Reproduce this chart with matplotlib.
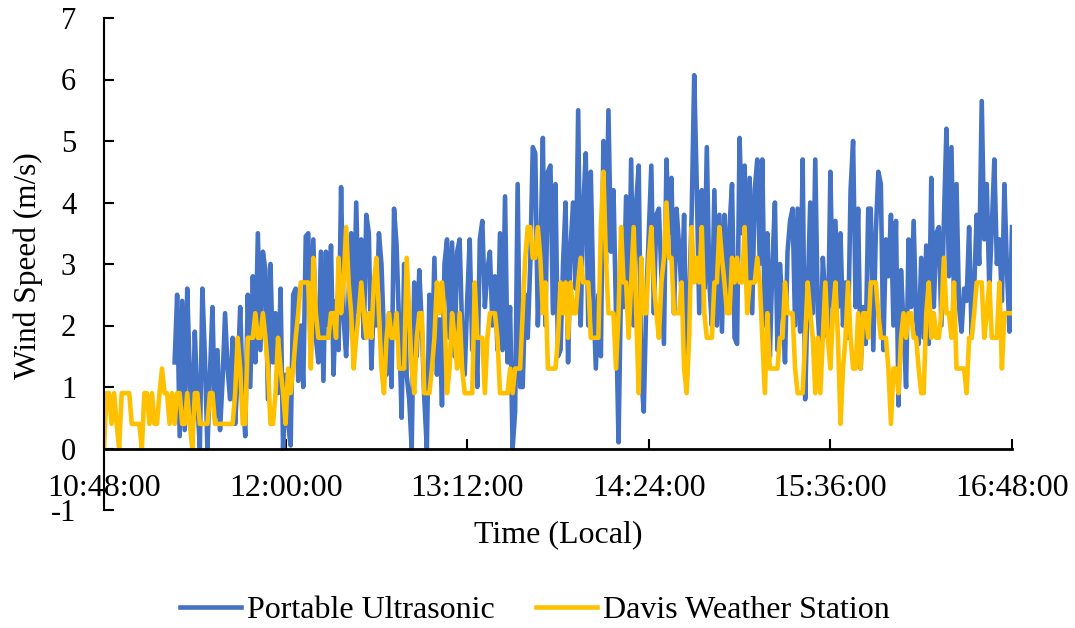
import matplotlib.pyplot as plt
import numpy as np

plt.rcParams['font.family'] = ['Liberation Serif', 'DejaVu Serif']
plt.rcParams['axes.unicode_minus'] = False

####DATA####
# minutes after 10:48:00, one sample per minute
tick_labels = ['10:48:00', '12:00:00', '13:12:00', '14:24:00', '15:36:00', '16:48:00']
tick_minutes = [0, 72, 144, 216, 288, 360]

# Davis Weather Station (m/s), starts at 10:48
davis = [
    0, 0.9, 0.9, 0.4, 0.9, 0.4, 0, 0.9, 0.9, 0.9,
    0.9, 0.4, 0.4, 0.4, 0.4, 0, 0.9, 0.9, 0.4, 0.9,
    0.4, 0.4, 0.9, 1.3, 0.9, 0.9, 0.4, 0.9, 0.4, 0.9,
    0.9, 0.4, 0.4, 0.9, 0.4, 0, 0.9, 0.9, 0.4, 0.4,
    0.4, 0.4, 0.9, 0.9, 0.4, 0.4, 0.4, 0.4, 0.4, 0.4,
    0.4, 0.4, 0.9, 1.8, 1.3, 0.4, 0.4, 1.8, 1.8, 1.8,
    2.2, 1.8, 1.8, 2.2, 1.8, 1.3, 0.4, 0.4, 0.9, 1.8,
    1.3, 0.9, 0.4, 1.3, 0.9, 1.3, 1.8, 2.2, 2.7, 2.7,
    2.7, 2.7, 1.3, 3.1, 2.2, 1.8, 1.8, 1.8, 1.8, 1.8,
    2.2, 2.2, 1.8, 3.1, 2.2, 2.7, 3.6, 2.7, 2.2, 1.3,
    1.8, 2.2, 2.7, 2.2, 1.8, 2.2, 1.8, 2.7, 3.1, 2.2,
    1.3, 0.9, 1.8, 2.2, 1.8, 1.8, 2.2, 1.3, 1.3, 1.3,
    3.1, 2.2, 1.3, 0.9, 1.8, 2.2, 2.2, 0.9, 0.9, 0.9,
    1.3, 1.8, 2.7, 2.2, 2.7, 2.2, 0.9, 1.3, 2.2, 1.8,
    1.3, 2.2, 1.3, 0.9, 0.9, 0.9, 0.9, 2.7, 1.8, 1.8,
    1.8, 0.9, 1.8, 2.2, 2.2, 2.2, 1.8, 0.9, 0.9, 0.9,
    0.9, 1.3, 0.9, 1.3, 1.3, 1.3, 2.2, 3.1, 3.6, 3.6,
    3.1, 3.1, 3.6, 3.1, 2.2, 2.7, 1.3, 1.3, 1.3, 1.3,
    1.8, 2.7, 2.2, 2.7, 1.8, 2.7, 2.2, 2.2, 2.7, 3.1,
    2.7, 2.7, 2.7, 1.8, 1.8, 1.8, 1.8, 3.6, 4.5, 3.1,
    2.2, 2.2, 2.2, 1.3, 2.2, 3.6, 2.7, 2.7, 1.8, 2.7,
    3.6, 2.2, 0.9, 3.1, 2.2, 2.2, 3.1, 3.6, 2.7, 2.2,
    1.8, 2.7, 3.1, 4.0, 3.1, 3.1, 2.2, 2.2, 2.2, 2.7,
    1.3, 0.9, 1.8, 3.6, 2.7, 3.1, 2.7, 3.6, 2.2, 1.8,
    1.8, 1.8, 2.7, 2.7, 3.6, 3.1, 2.7, 2.2, 2.2, 3.1,
    2.7, 3.1, 2.7, 2.7, 3.6, 2.2, 2.7, 2.7, 2.7, 3.1,
    2.7, 1.8, 0.9, 2.2, 1.3, 1.3, 1.3, 1.3, 1.8, 1.8,
    2.7, 2.2, 2.2, 2.2, 1.3, 0.9, 0.9, 0.9, 1.8, 2.7,
    2.2, 1.8, 0.9, 1.8, 0.9, 1.8, 2.7, 1.8, 1.3, 2.2,
    2.7, 1.8, 0.4, 1.3, 1.8, 2.7, 1.8, 1.3, 1.3, 2.2,
    1.3, 2.2, 2.2, 1.8, 2.7, 2.7, 2.7, 2.2, 1.8, 1.8,
    1.8, 1.3, 0.4, 1.3, 1.3, 0.9, 1.8, 2.2, 1.8, 2.2,
    2.2, 1.8, 1.8, 1.3, 0.9, 0.9, 2.2, 2.7, 1.8, 2.2,
    1.8, 1.8, 2.2, 3.1, 2.2, 2.2, 1.8, 2.7, 1.3, 1.3,
    1.3, 1.3, 0.9, 1.8, 1.8, 2.2, 2.7, 2.7, 2.7, 1.8,
    2.2, 2.7, 1.8, 1.8, 1.8, 2.7, 1.3, 2.2, 2.2, 2.2, 2.2,
]

# Portable Ultrasonic (m/s), starts 28 min after 10:48
ultra_start = 28
ultra = [
    1.4, 2.5,
    0.2, 2.4, 0.3, 2.6, 1.2, 0.1, 1.9, 0.8, 0.0, 2.6,
    1.5, 0.0, 1.2, 2.3, 0.5, 1.6, 0.3, 1.1, 2.2, 1.3,
    0.8, 1.8, 0.4, 1.2, 2.3, 0.9, 0.2, 2.5, 1.0, 2.8,
    1.4, 3.5, 1.6, 3.2, 2.9, 0.8, 3.0, 1.4, 2.2, 0.9,
    2.6, 0.0, 1.2, 0.4, 0.05, 2.5, 2.6, 1.1, 2.0, 1.0,
    3.45, 3.5, 1.5, 3.4, 1.8, 1.4, 3.2, 1.1, 3.2, 2.0,
    3.3, 1.2, 2.4, 1.6, 4.25, 2.1, 1.5, 2.5, 3.5, 1.9,
    4.0, 2.2, 3.4, 1.8, 3.8, 3.5, 1.3, 2.4, 2.0, 3.5,
    3.0, 1.8, 1.2, 2.2, 1.0, 3.9, 3.3, 2.0, 0.5, 3.0,
    1.2, 0.8, 0.0, 2.7, 1.5, 2.9, 2.0, 0.8, 0.0, 2.5,
    1.4, 3.1, 1.2, 2.1, 0.7, 3.0, 3.4, 1.8, 3.35, 1.5,
    3.2, 3.4, 1.9, 1.2, 2.4, 3.4, 1.6, 2.2, 1.0, 3.4,
    3.7, 2.3, 2.9, 3.2, 2.0, 2.8, 1.6, 3.5, 1.6, 4.1,
    1.4, 2.3, 0.0, 0.6, 4.3, 1.0, 1.0, 2.5, 1.8, 3.0,
    4.9, 4.8, 2.0, 3.1, 5.05, 2.0, 4.5, 4.6, 2.2, 4.3,
    1.5, 1.6, 3.0, 4.0, 1.4, 3.3, 4.0, 2.6, 5.5, 2.0,
    3.9, 4.8, 2.0, 4.5, 2.5, 1.3, 2.5, 1.5, 5.0, 3.0,
    5.5, 3.2, 4.2, 2.2, 0.1, 2.7, 2.3, 4.1, 2.0, 4.7,
    2.0, 4.0, 4.6, 1.2, 0.6, 2.4, 3.5, 4.6, 2.2, 3.8,
    3.9, 2.8, 1.7, 4.7, 3.5, 4.4, 2.2, 3.9, 3.3, 2.5,
    3.8, 1.1, 2.4, 3.8, 6.07, 4.3, 2.2, 4.2, 2.6, 4.9,
    2.7, 2.0, 4.2, 2.0, 3.8, 1.9, 3.8, 2.3, 3.6, 4.3,
    1.8, 1.7, 5.05, 3.5, 4.6, 2.5, 4.4, 2.2, 4.2, 4.7,
    3.0, 4.7, 2.0, 3.5, 1.5, 3.0, 4.0, 1.6, 3.0, 2.3,
    1.4, 3.2, 3.7, 3.9, 2.0, 3.9, 1.9, 4.7, 0.8, 2.5,
    4.0, 2.2, 4.7, 2.2, 1.5, 3.1, 2.4, 1.8, 4.5, 2.3,
    3.7, 2.3, 3.5, 2.0, 2.7, 1.8, 4.2, 5.0, 2.3, 3.9,
    1.3, 2.3, 1.7, 3.9, 3.9, 1.6, 3.5, 4.5, 4.3, 1.6,
    3.4, 2.8, 3.8, 2.0, 3.7, 0.7, 2.9, 2.0, 1.0, 3.4,
    2.3, 3.7, 2.1, 1.7, 3.1, 1.8, 3.3, 1.7, 4.4, 2.3,
    3.5, 3.6, 2.0, 3.7, 5.2, 2.8, 4.9, 2.4, 4.3, 2.3,
    1.9, 2.6, 2.4, 3.6, 1.8, 2.6, 3.8, 3.0, 5.65, 3.4,
    4.3, 2.6, 3.6, 4.7, 3.0, 3.4, 2.4, 4.3, 2.9, 1.9, 3.6,
]

t_davis = np.arange(len(davis))
t_ultra = ultra_start + np.arange(len(ultra))

####PLOT####
fig = plt.figure(figsize=(10.75, 6.28), dpi=100)
ax = fig.add_axes([104/1075, 1 - 510/628, 908/1075, 492/628])

ax.plot(t_ultra, ultra, color='#4472C4', lw=3.3, label='Portable Ultrasonic')
ax.plot(t_davis, davis, color='#FFC000', lw=3.3, label='Davis Weather Station')

ax.set_xlim(0, 360)
ax.set_ylim(-1, 7)
ax.set_yticks(range(-1, 8))
ax.set_xticks(tick_minutes)
ax.set_xticklabels(tick_labels)

# axes cross at y = 0
ax.spines['bottom'].set_position(('data', 0))
ax.spines['top'].set_visible(False)
ax.spines['right'].set_visible(False)
ax.spines['bottom'].set_linewidth(2.0)
ax.spines['left'].set_linewidth(1.5)

ax.tick_params(axis='y', direction='in', length=7, width=1.5, labelsize=22, pad=20)
ax.tick_params(axis='x', direction='in', length=7, width=1.5, labelsize=23, pad=18)

fig.text(28/1075, 1 - 266/628, 'Wind Speed (m/s)', rotation=90, fontsize=22.5,
         ha='center', va='center')
fig.text(558/1075, 1 - 535/628, 'Time (Local)', fontsize=23, ha='center', va='center')

fig.legend(loc='center', bbox_to_anchor=(535/1075, 1 - 610/628), ncol=2, frameon=False,
           fontsize=23, handlelength=1.9, handletextpad=0.2, columnspacing=1.3)

fig.savefig('out.png', dpi=100)
